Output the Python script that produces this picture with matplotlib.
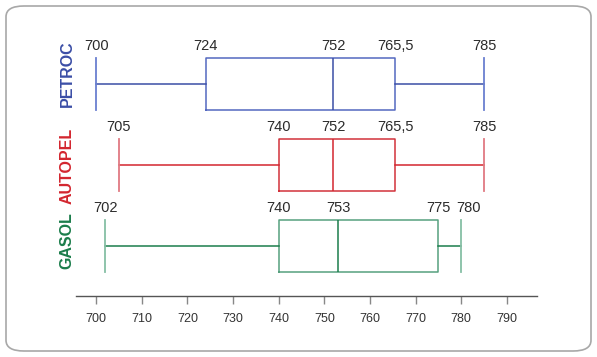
import matplotlib
matplotlib.use("Agg")
import matplotlib.pyplot as plt
from matplotlib.patches import FancyBboxPatch

plt.rcParams['font.family'] = ['Liberation Sans', 'DejaVu Sans']

names = ["PETROC", "AUTOPEL", "GASOL"]
colors = ["#3b4ea6", "#d3262f", "#1b7d4b"]
box_colors = ["#5468c0", "#d2313a", "#56a07e"]
cap_colors = ["#6a7fd0", "#e07a82", "#86bfa5"]
mins = [700, 705, 702]
q1s = [724, 740, 740]
meds = [752, 752, 753]
q3s = [765.5, 765.5, 775]
maxs = [785, 785, 780]
label_texts = [["700", "724", "752", "765,5", "785"],
               ["705", "740", "752", "765,5", "785"],
               ["702", "740", "753", "775", "780"]]
xticks = [700, 710, 720, 730, 740, 750, 760, 770, 780, 790]

W, H = 597, 357
fig = plt.figure(figsize=(W / 100, H / 100), dpi=100)

# rounded frame
frame = FancyBboxPatch((6 / W, 6 / H), (591 - 6) / W, (351 - 6) / H,
                       boxstyle="round,pad=0,rounding_size=0.03",
                       transform=fig.transFigure, fill=False,
                       edgecolor="#a8a8a8", linewidth=1.2)
fig.patches.append(frame)

ax = fig.add_axes([76 / W, (H - 296) / H, (537 - 76) / W, (296 - 30) / H])
ax.set_xlim(695.6, 796.6)
ax.set_ylim(0.383, 3.667)

positions = [3, 2, 1]
bw = 0.65
for i in range(3):
    stats = [dict(whislo=mins[i], q1=q1s[i], med=meds[i], q3=q3s[i], whishi=maxs[i])]
    c = colors[i]
    ax.bxp(stats, positions=[positions[i]], vert=False, widths=bw,
           capwidths=bw, showfliers=False,
           boxprops=dict(color=box_colors[i], linewidth=1.1),
           whiskerprops=dict(color=c, linewidth=1.1),
           capprops=dict(color=cap_colors[i], linewidth=1.3),
           medianprops=dict(color=c, linewidth=1.1))
    vals = [mins[i], q1s[i], meds[i], q3s[i], maxs[i]]
    for j, (v, t) in enumerate(zip(vals, label_texts[i])):
        dx = 5 if (i == 2 and j == 4) else 0
        ax.annotate(t, xy=(v, positions[i] + bw / 2), xytext=(dx, 3.5),
                    textcoords="offset points", ha="center", va="bottom",
                    fontsize=10.5, color="#2b2b2b")

# left labels
label_y = [74, 166, 241]
for n, c, y in zip(names, colors, label_y):
    fig.text(67 / W, 1 - y / H, n, rotation=90, ha="center", va="center",
             fontsize=11.5, fontweight="bold", color=c)

for s in ["top", "right", "left"]:
    ax.spines[s].set_visible(False)
ax.spines["bottom"].set_color("#555555")
ax.spines["bottom"].set_linewidth(1.0)
ax.set_yticks([])
ax.set_xticks(xticks)
ax.set_xticklabels([str(x) for x in xticks])
ax.tick_params(axis="x", direction="out", length=6, width=1, color="#888888",
               labelsize=9, labelcolor="#333333", pad=6)

fig.savefig("out.png", dpi=100)
